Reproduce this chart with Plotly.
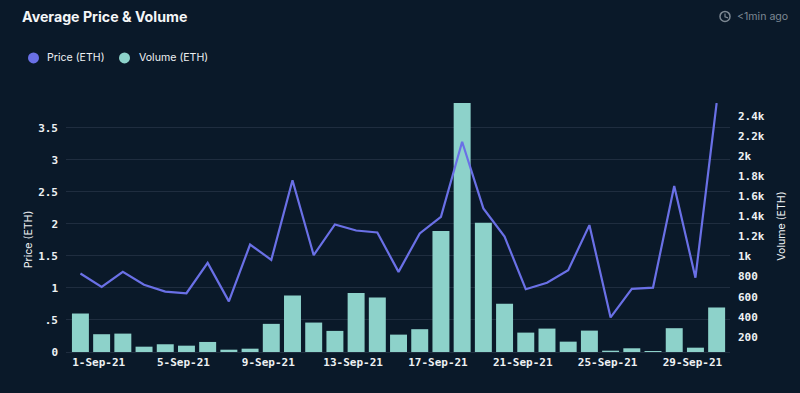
import plotly.graph_objects as go

dates = ["31-Aug-21"] + [f"{d}-Sep-21" for d in range(1, 31)]
volume = [433, 227, 233, 103, 127, 113, 150, 73, 83, 330, 613, 343, 260, 637, 593, 223,
          277, 1253, 2528, 1337, 530, 243, 283, 153, 263, 63, 87, 60, 287, 93, 493]
price = [1.224, 1.016, 1.25, 1.05, 0.943, 0.917, 1.39, 0.79, 1.677, 1.4375, 2.68, 1.51,
         1.99, 1.896, 1.865, 1.25, 1.85, 2.11, 3.28, 2.24, 1.80, 0.98, 1.08, 1.276, 1.98,
         0.54, 0.984, 1.005, 2.59, 1.16, 3.885]
x_ticks = [f"{d}-Sep-21" for d in (1, 5, 9, 13, 17, 21, 25, 29)]
price_ticks = [0, 0.5, 1, 1.5, 2, 2.5, 3, 3.5]
price_labels = ["0", ".5", "1", "1.5", "2", "2.5", "3", "3.5"]
vol_ticks = [200, 400, 600, 800, 1000, 1200, 1400, 1600, 1800, 2000, 2200, 2400]
vol_labels = ["200", "400", "600", "800", "1k", "1.2k", "1.4k", "1.6k", "1.8k", "2k", "2.2k", "2.4k"]

BG = "#0a1929"
GRID = "#1f2d3f"
TEAL = "#8dd2ca"
BLUE = "#6a70e6"
TXT = "#eef1f3"
tick_font = dict(family="DejaVu Sans Mono", size=11, color=TXT, weight="bold")

fig = go.Figure()
fig.add_trace(go.Scatter(x=dates, y=[None] * len(dates), mode="lines", yaxis="y", hoverinfo="skip"))
fig.add_trace(go.Bar(x=dates, y=volume, name="Volume (ETH)", marker=dict(color=TEAL, line_width=0), yaxis="y2"))
fig.add_trace(go.Scatter(x=dates, y=price, name="Price (ETH)", mode="lines",
                         line=dict(color=BLUE, width=2.2), yaxis="y3"))

W, H = 800, 393
L, R, T, B = 66, 70, 103, 41.3
def ax(x): return (x - L) / (W - L - R)
def ay(y): return 1 - (y - T) / (H - T - B)

def circle(cx, cy, r, fill, line=None, w=0):
    return dict(type="circle", xref="paper", yref="paper", layer="above",
                x0=ax(cx - r), x1=ax(cx + r), y0=ay(cy + r), y1=ay(cy - r),
                fillcolor=fill, line=dict(color=line or fill, width=w))

shapes = [
    circle(33.5, 58, 5.5, BLUE),
    circle(124.5, 58, 5.5, TEAL),
    circle(725, 16.5, 5, "rgba(0,0,0,0)", "#7d8893", 1.5),
    dict(type="path", xref="paper", yref="paper", layer="above",
         path=f"M {ax(725)} {ay(13.5)} L {ax(725)} {ay(17)} L {ax(728)} {ay(18)}",
         line=dict(color="#7d8893", width=1.2)),
]

def note(x, y, text, size, color=TXT, family="Inter", anchor="left", angle=0, weight=None):
    f = dict(family=family, size=size, color=color)
    if weight: f["weight"] = weight
    return dict(xref="paper", yref="paper", x=ax(x), y=ay(y), text=text, showarrow=False,
                xanchor=anchor, yanchor="middle", textangle=angle, font=f)

annotations = [
    note(19.5, 17, "Average Price &amp; Volume", 14.2, "#f4f6f7", weight="bold"),
    note(44.5, 58, "Price (ETH)", 10.6),
    note(136.5, 58, "Volume (ETH)", 10.6),
    note(734.5, 16.5, "&lt;1min ago", 10.6, "#7d8893"),
    note(28, 239, "Price (ETH)", 10.6, anchor="center", angle=-90),
    note(782, 226.5, "Volume (ETH)", 10.6, anchor="center", angle=-90),
]

fig.update_layout(
    width=W, height=H, autosize=False, showlegend=False,
    paper_bgcolor=BG, plot_bgcolor=BG,
    margin=dict(l=L, r=R, t=T, b=B, pad=0),
    bargap=0.2,
    shapes=shapes, annotations=annotations,
    xaxis=dict(type="category", categoryorder="array", categoryarray=dates,
               range=[-0.68, 30.63], tickmode="array", tickvals=x_ticks, ticktext=x_ticks,
               showgrid=False, zeroline=False, showline=True, linecolor=GRID, linewidth=1,
               ticks="", tickangle=0, tickfont=tick_font, ticklabelshift=-3),
    yaxis=dict(range=[0, 3.885], tickmode="array", tickvals=price_ticks, ticktext=price_labels,
               gridcolor=GRID, gridwidth=1, zeroline=False, showline=False, ticks="",
               tickfont=tick_font, ticklabelstandoff=7),
    yaxis2=dict(range=[50, 2528], overlaying="y", side="right", tickmode="array",
                tickvals=vol_ticks, ticktext=vol_labels, showgrid=False, zeroline=False,
                showline=False, ticks="", tickfont=tick_font, ticklabelstandoff=7),
    yaxis3=dict(range=[0, 3.885], overlaying="y", side="left", visible=False, showgrid=False),
)
fig.write_html("out.html", config=dict(displayModeBar=False),
               post_script="document.body.style.margin='0';document.body.style.background='%s';" % BG)
